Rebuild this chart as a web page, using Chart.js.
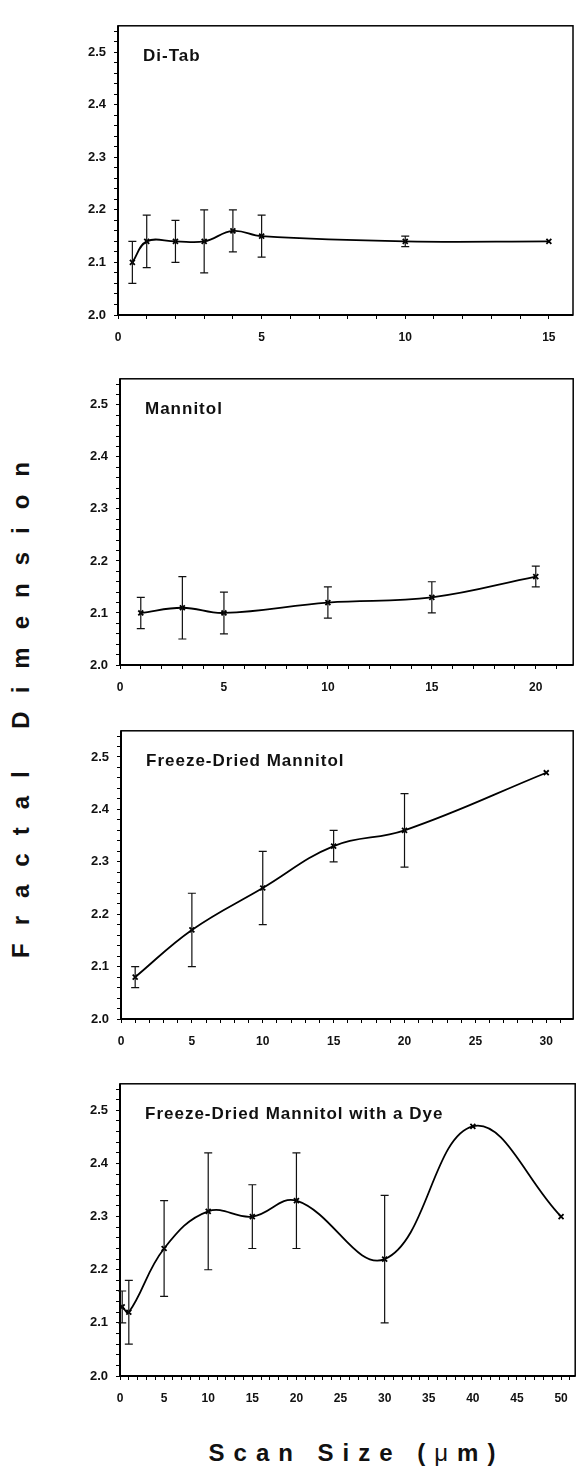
<!DOCTYPE html>
<html>
<head>
<meta charset="utf-8">
<script src="https://cdn.jsdelivr.net/npm/chart.js@4.4.1/dist/chart.umd.min.js"></script>
<style>
  body { margin: 0; background: #fff; }
  #page { position: relative; width: 579px; height: 1466px; overflow: hidden; background: #fff; }
  canvas { position: absolute; }
  .ytitle, .xtitle {
    position: absolute;
    font: bold 24px 'Liberation Sans', Arial, sans-serif;
    color: #111;
    white-space: nowrap;
  }
  .ytitle { left: 21px; top: 710px; letter-spacing: 18px; padding-left: 18px; transform: translate(-50%, -50%) rotate(-90deg); }
  .xtitle { left: 352px; top: 1453px; letter-spacing: 9px; padding-left: 9px; transform: translate(-50%, -50%); }
  .mu { font-weight: normal; }
</style>
</head>
<body>
<div id="page">
  <canvas id="c1"></canvas>
  <canvas id="c2"></canvas>
  <canvas id="c3"></canvas>
  <canvas id="c4"></canvas>
  <div class="ytitle">Fractal Dimension</div>
  <div class="xtitle">Scan Size (<span class="mu">μ</span>m)</div>
</div>
<script>
// Di-Tab
const ditabX = [0.5, 1, 2, 3, 4, 5, 10, 15];
const ditabY = [2.10, 2.14, 2.14, 2.14, 2.16, 2.15, 2.14, 2.14];
const ditabErr = [0.04, 0.05, 0.04, 0.06, 0.04, 0.04, 0.01, 0];

// Mannitol
const mannX = [1, 3, 5, 10, 15, 20];
const mannY = [2.10, 2.11, 2.10, 2.12, 2.13, 2.17];
const mannErr = [0.03, 0.06, 0.04, 0.03, 0.03, 0.02];

// Freeze-Dried Mannitol
const fdX = [1, 5, 10, 15, 20, 30];
const fdY = [2.08, 2.17, 2.25, 2.33, 2.36, 2.47];
const fdErr = [0.02, 0.07, 0.07, 0.03, 0.07, 0];

// Freeze-Dried Mannitol with a Dye
const dyeX = [0.25, 1, 5, 10, 15, 20, 30, 40, 50];
const dyeY = [2.13, 2.12, 2.24, 2.31, 2.30, 2.33, 2.22, 2.47, 2.30];
const dyeErr = [0.03, 0.06, 0.09, 0.11, 0.06, 0.09, 0.12, 0, 0];

// tick labels
const yLabels = [2.0, 2.1, 2.2, 2.3, 2.4, 2.5];
const ditabXLabels = [0, 5, 10, 15];
const mannXLabels = [0, 5, 10, 15, 20];
const fdXLabels = [0, 5, 10, 15, 20, 25, 30];
const dyeXLabels = [0, 5, 10, 15, 20, 25, 30, 35, 40, 45, 50];

const FONT = "'Liberation Sans', Arial, sans-serif";

const frame = {
    id: 'frame',
    beforeDatasetsDraw(chart) {
        const { ctx, chartArea: a } = chart;
        ctx.save();
        ctx.strokeStyle = '#000';
        ctx.lineWidth = 1.5;
        ctx.strokeRect(a.left, a.top, a.right - a.left, a.bottom - a.top);
        ctx.lineWidth = 2;
        ctx.beginPath();
        ctx.moveTo(a.left, a.top);
        ctx.lineTo(a.left, a.bottom);
        ctx.lineTo(a.right, a.bottom);
        ctx.stroke();
        ctx.restore();
    }
};

const errorBars = {
    id: 'errorBars',
    afterDatasetsDraw(chart) {
        const { ctx, scales: { x, y } } = chart;
        const ds = chart.data.datasets[0];
        ctx.save();
        ctx.strokeStyle = '#111';
        ctx.lineWidth = 1.2;
        ds.data.forEach((p, i) => {
            const e = ds.errors[i];
            if (!e) return;
            const px = x.getPixelForValue(p.x);
            const top = y.getPixelForValue(p.y + e);
            const bot = y.getPixelForValue(p.y - e);
            ctx.beginPath();
            ctx.moveTo(px, top); ctx.lineTo(px, bot);
            ctx.moveTo(px - 4, top); ctx.lineTo(px + 4, top);
            ctx.moveTo(px - 4, bot); ctx.lineTo(px + 4, bot);
            ctx.stroke();
        });
        ctx.restore();
    }
};

const panelTitle = {
    id: 'panelTitle',
    afterDraw(chart, args, opts) {
        const { ctx, chartArea: a, scales: { y } } = chart;
        ctx.save();
        ctx.fillStyle = '#111';
        ctx.font = 'bold 17px ' + FONT;
        ctx.letterSpacing = '1px';
        ctx.textBaseline = 'middle';
        ctx.fillText(opts.text, a.left + 25, y.getPixelForValue(2.492));
        ctx.restore();
    }
};

function makePanel(id, title, xs, ys, errs, xLabels, geo) {
    const canvas = document.getElementById(id);
    const w = geo.canvasRight - 60;
    const h = geo.bottom - geo.top + 37;
    canvas.width = w; canvas.height = h;
    canvas.style.left = '60px';
    canvas.style.top = (geo.top - 5) + 'px';
    canvas.style.width = w + 'px';
    canvas.style.height = h + 'px';

    new Chart(canvas.getContext('2d'), {
        type: 'line',
        data: {
            datasets: [{
                data: xs.map((x, i) => ({ x, y: ys[i] })),
                errors: errs,
                borderColor: '#000',
                borderWidth: 1.8,
                tension: 0.4,
                pointStyle: 'crossRot',
                pointRadius: 3.5,
                pointBorderWidth: 1.8,
                pointBorderColor: '#000',
                pointBackgroundColor: '#000'
            }]
        },
        options: {
            responsive: false,
            animation: false,
            events: [],
            layout: { padding: { top: 5, right: geo.canvasRight - geo.right, left: 0, bottom: 0 } },
            plugins: {
                legend: { display: false },
                tooltip: { enabled: false },
                panelTitle: { text: title }
            },
            scales: {
                x: {
                    type: 'linear',
                    min: 0,
                    max: geo.xMax,
                    afterBuildTicks: s => {
                        const t = [];
                        for (let v = 0; v <= geo.xMax; v += 1) t.push({ value: v });
                        s.ticks = t;
                    },
                    afterFit: s => { s.height = 32; },
                    ticks: {
                        autoSkip: false,
                        maxRotation: 0,
                        padding: 11,
                        color: '#111',
                        font: { family: FONT, size: 12, weight: 'bold' },
                        callback: v => xLabels.includes(v) ? String(v) : ''
                    },
                    grid: { drawOnChartArea: false, drawTicks: true, tickLength: 4, color: '#000', lineWidth: 1 },
                    border: { display: false }
                },
                y: {
                    min: 2.0,
                    max: 2.55,
                    afterBuildTicks: s => {
                        const t = [];
                        for (let k = 0; k <= 27; k++) t.push({ value: 2 + k * 0.02 });
                        s.ticks = t;
                    },
                    afterFit: s => { s.width = geo.left - 60; },
                    ticks: {
                        autoSkip: false,
                        padding: 8,
                        color: '#111',
                        font: { family: FONT, size: 13, weight: 'bold' },
                        callback: v => {
                            const lab = yLabels.find(l => Math.abs(l - v) < 1e-6);
                            return lab !== undefined ? lab.toFixed(1) : '';
                        }
                    },
                    grid: { drawOnChartArea: false, drawTicks: true, tickLength: 4, color: '#000', lineWidth: 1 },
                    border: { display: false }
                }
            }
        },
        plugins: [frame, errorBars, panelTitle]
    });
}

makePanel('c1', 'Di-Tab', ditabX, ditabY, ditabErr, ditabXLabels,
    { top: 15, bottom: 315, left: 118, right: 573, canvasRight: 579, xMax: 15.84 });
makePanel('c2', 'Mannitol', mannX, mannY, mannErr, mannXLabels,
    { top: 368, bottom: 665, left: 120, right: 577, canvasRight: 579, xMax: 21.8 });
makePanel('c3', 'Freeze-Dried Mannitol', fdX, fdY, fdErr, fdXLabels,
    { top: 720, bottom: 1019, left: 121, right: 577, canvasRight: 579, xMax: 31.9 });
makePanel('c4', 'Freeze-Dried Mannitol with a Dye', dyeX, dyeY, dyeErr, dyeXLabels,
    { top: 1073, bottom: 1376, left: 120, right: 581, canvasRight: 581, xMax: 51.6 });
</script>
</body>
</html>
